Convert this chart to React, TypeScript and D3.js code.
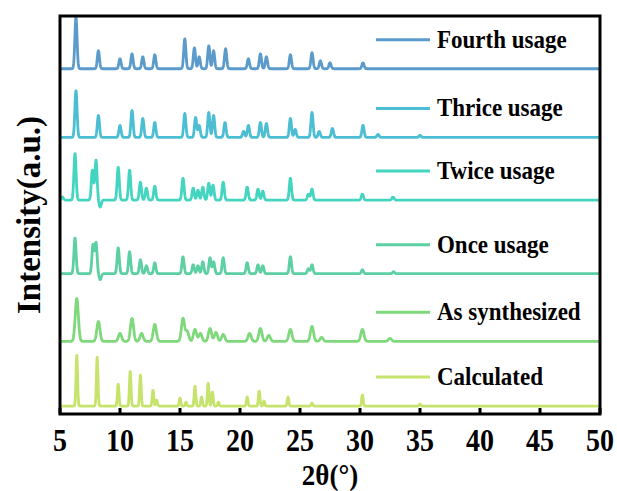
import React from "react";
import * as d3 from "d3";

const WIDTH = 617;
const HEIGHT = 491;
const margin = { top: 16, right: 17, bottom: 77, left: 60 };

// stacked from bottom to top
const seriesNames = ["Calculated", "As synthesized", "Once usage", "Twice usage", "Thrice usage", "Fourth usage"];
const seriesColors = ["#c6e36b", "#7fd87b", "#5dd0a3", "#44d5c1", "#4bbed3", "#5a9bcb"];
const offsets = [8, 73, 141, 215, 278, 347];
const peakWidths = [0.065, 0.13, 0.09, 0.09, 0.09, 0.09];

// [2theta, height]
const calculatedPeaks = [
  [6.4, 51], [8.1, 49], [9.85, 22], [10.85, 35], [11.7, 31], [12.75, 16], [13.05, 6], [15.0, 8], [15.5, 4],
  [16.25, 20], [16.8, 9], [17.35, 23], [17.7, 14], [18.2, 4], [20.6, 9], [21.6, 15], [22.0, 5], [24.0, 9],
  [26.0, 3], [30.2, 11], [35.0, 2],
];
const asSynthesizedPeaks = [
  [6.4, 43], [8.2, 20], [10.0, 8], [11.0, 23], [11.8, 8], [12.9, 17], [15.25, 23], [15.6, 10], [16.25, 12],
  [16.7, 8], [17.5, 13], [18.0, 9], [18.6, 7], [20.8, 8], [21.7, 13], [22.4, 6], [24.2, 12], [26.0, 15],
  [26.8, 4], [30.2, 12], [32.5, 3],
];
const oncePeaks = [
  [6.25, 36], [7.75, 29], [8.0, 31], [8.35, -6], [9.85, 26], [10.8, 22], [11.7, 14], [12.2, 8], [12.9, 11],
  [15.25, 17], [16.1, 9], [16.5, 8], [16.9, 12], [17.5, 16], [17.8, 12], [18.6, 16], [20.6, 11], [21.5, 9],
  [21.9, 8], [24.2, 17], [25.7, 5], [26.0, 9], [30.2, 4], [32.8, 2],
];
const twicePeaks = [
  [5.2, 3], [6.25, 47], [7.7, 30], [8.0, 40], [8.35, -7], [9.85, 33], [10.8, 30], [11.7, 18], [12.2, 12],
  [12.9, 14], [15.25, 22], [16.1, 12], [16.5, 10], [16.9, 13], [17.4, 17], [17.75, 15], [18.6, 18], [20.6, 13],
  [21.5, 11], [21.9, 9], [24.2, 22], [25.7, 6], [26.0, 11], [30.2, 6], [32.75, 3],
];
const thricePeaks = [
  [6.33, 47], [8.2, 22], [10.0, 12], [11.0, 27], [11.9, 19], [12.9, 15], [15.4, 24], [16.3, 20], [16.6, 12],
  [17.4, 25], [17.8, 22], [18.75, 15], [20.3, 6], [20.7, 12], [21.7, 15], [22.2, 14], [24.2, 19], [24.6, 8],
  [26.0, 25], [26.6, 6], [27.7, 9], [30.25, 12], [31.5, 3], [35.0, 2],
];
const fourthPeaks = [
  [6.33, 52], [8.2, 18], [10.0, 10], [11.0, 15], [11.9, 12], [12.9, 14], [15.4, 30], [16.2, 21], [16.6, 12],
  [17.4, 23], [17.8, 18], [18.8, 20], [20.7, 10], [21.7, 15], [22.2, 12], [24.2, 14], [26.0, 16], [26.7, 8],
  [27.5, 6], [30.25, 6],
];
const allPeaks = [calculatedPeaks, asSynthesizedPeaks, oncePeaks, twicePeaks, thricePeaks, fourthPeaks];

const xTicks = [5, 10, 15, 20, 25, 30, 35, 40, 45, 50];

const FONT = "'Liberation Serif', 'Times New Roman', serif";

export default function App() {
  const innerW = WIDTH - margin.left - margin.right;
  const innerH = HEIGHT - margin.top - margin.bottom;

  const x = d3.scaleLinear().domain([5, 50]).range([margin.left, margin.left + innerW]);
  const y = d3.scaleLinear().domain([0, 400]).range([margin.top + innerH, margin.top]);

  const grid = d3.range(5, 50.0001, 0.02);

  const line = d3
    .line<[number, number]>()
    .x((d) => x(d[0]))
    .y((d) => y(d[1]));

  const paths = allPeaks.map((peaks, i) => {
    const w = peakWidths[i];
    const pts: [number, number][] = grid.map((t) => {
      let v = offsets[i];
      for (const [p, h] of peaks) v += h * Math.exp(-0.5 * ((t - p) / w) ** 2);
      return [t, v];
    });
    return line(pts) || "";
  });

  return (
    <svg
      width={WIDTH}
      height={HEIGHT}
      style={{ position: "absolute", left: 0, top: 0, background: "#fff" }}
    >
      <defs>
        <clipPath id="plot">
          <rect x={margin.left} y={margin.top} width={innerW} height={innerH} />
        </clipPath>
      </defs>

      <g clipPath="url(#plot)">
        {paths.map((d, i) => (
          <path key={i} d={d} fill="none" stroke={seriesColors[i]} strokeWidth={2.8} strokeLinejoin="round" />
        ))}
      </g>

      {/* legend */}
      {seriesNames.map((name, i) => {
        const ly = y(offsets[i]) - 29;
        return (
          <g key={name}>
            <line x1={376} x2={430} y1={ly} y2={ly} stroke={seriesColors[i]} strokeWidth={3} />
            <text
              transform={`translate(437, ${ly + 8}) scale(1, 1.1)`}
              fontFamily={FONT}
              fontWeight="bold"
              fontSize={23}
              fill="#000"
            >
              {name}
            </text>
          </g>
        );
      })}

      {/* frame */}
      <rect
        x={margin.left}
        y={margin.top}
        width={innerW}
        height={innerH}
        fill="none"
        stroke="#000"
        strokeWidth={3}
      />

      {/* x ticks (inward) */}
      {xTicks.map((t) => (
        <g key={t}>
          <line x1={x(t)} x2={x(t)} y1={margin.top + innerH} y2={margin.top + innerH - 6} stroke="#000" strokeWidth={3} />
          <text
            transform={`translate(${x(t)}, 451) scale(1, 1.15)`}
            textAnchor="middle"
            fontFamily={FONT}
            fontWeight="bold"
            fontSize={28}
            fill="#000"
          >
            {t}
          </text>
        </g>
      ))}

      <text
        transform={`translate(${x(27.5)}, 485) scale(1, 1.1)`}
        textAnchor="middle"
        fontFamily={FONT}
        fontWeight="bold"
        fontSize={27}
        fill="#000"
      >
        2θ(°)
      </text>

      <text
        transform={`translate(40, ${margin.top + innerH / 2}) rotate(-90)`}
        textAnchor="middle"
        fontFamily={FONT}
        fontWeight="bold"
        fontSize={33}
        fill="#000"
      >
        Intensity(a.u.)
      </text>
    </svg>
  );
}
